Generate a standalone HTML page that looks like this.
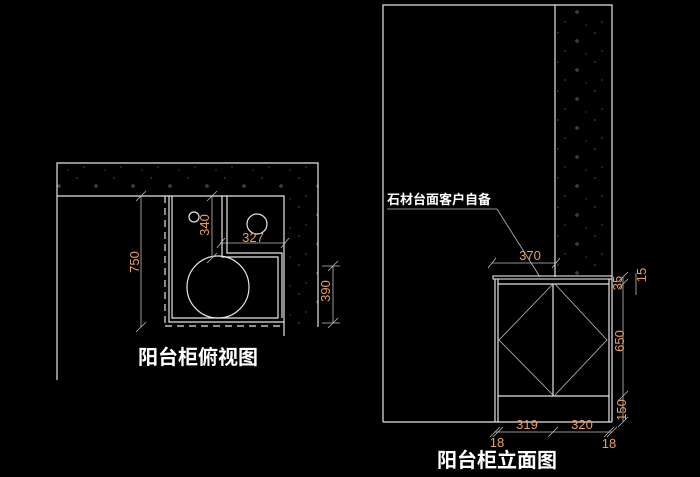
<!DOCTYPE html>
<html><head><meta charset="utf-8"><style>
html,body{margin:0;padding:0;background:#000;}
svg{display:block}
.w{stroke:#e6e6e6;stroke-width:1.2;fill:none}
.d{stroke:#bdbdbd;stroke-width:0.8;fill:none}
.o{fill:#e9a05c;font-family:"Liberation Sans","Noto Sans CJK SC",sans-serif;font-size:13px}
.t{fill:#fff;font-family:"Liberation Sans","Noto Sans CJK SC",sans-serif;font-weight:bold}
</style></head><body>
<svg width="700" height="477" viewBox="0 0 700 477" xmlns="http://www.w3.org/2000/svg">
<defs>
<pattern id="st" width="37" height="29" patternUnits="userSpaceOnUse">
<circle cx="3" cy="4" r="0.6" fill="#888"/><circle cx="22" cy="12" r="1.2" fill="none" stroke="#888" stroke-width="0.6"/>
<circle cx="10" cy="22" r="0.6" fill="#777"/><circle cx="31" cy="25" r="0.5" fill="#999"/>
</pattern>
</defs>
<!-- Top view -->
<path d="M285,197 H318 V327 H285 Z" fill="url(#st)"/>
<rect x="57" y="163" width="261" height="34" fill="url(#st)"/>
<path class="w" d="M57,380 V163 H318 V327"/>
<path class="w" d="M57,196 H284 V336"/>
<line x1="165" y1="196" x2="165" y2="326" stroke="#e6e6e6" stroke-width="1.2" stroke-dasharray="7,5"/>
<line x1="165" y1="326" x2="284" y2="326" stroke="#e6e6e6" stroke-width="1.2" stroke-dasharray="7,5"/>
<path class="w" d="M169,196 V322 H284"/>
<path class="w" d="M172,196 V318 H278 V257 H222 V196"/>
<path class="w" d="M227,196 V253 H282 V318"/>
<circle class="w" cx="194" cy="217" r="5"/>
<circle class="w" cx="257" cy="224" r="10"/>
<circle class="w" cx="218" cy="287" r="31"/>
<path class="d" d="M141,196 V327 M136,201 l10,-10 M136,332 l10,-10 M212,196 V258 M207,201 l10,-10 M207,263 l10,-10 M220,243 H284 M217,248 l8,-10 M281,248 l8,-10 M333,266 V323 M328,271 l10,-10 M328,328 l10,-10 M322,266 H340 M322,323 H340"/>
<text class="o" transform="translate(139,262) rotate(-90)" text-anchor="middle" font-size="15">750</text>
<text class="o" transform="translate(209,225) rotate(-90)" text-anchor="middle" font-size="15">340</text>
<text class="o" x="253" y="242" text-anchor="middle" font-size="15">327</text>
<text class="o" transform="translate(330,291) rotate(-90)" text-anchor="middle" font-size="15">390</text>
<text class="t" x="198" y="364" text-anchor="middle" font-size="20">阳台柜俯视图</text>
<!-- Elevation -->
<rect x="555" y="5" width="57" height="272" fill="url(#st)"/>
<path class="w" d="M383,422 V5 H612 V277 M555,5 V277"/>
<path class="w" d="M383,422 H612"/>
<rect x="493" y="276" width="119" height="3" fill="none" stroke="#e6e6e6" stroke-width="1.1"/>
<path class="w" d="M495,279 V422 M498,279 V422 M612,279 V422 M609,279 V422 M498,284 H609 M498,396 H609 M553,284 V396"/>
<path class="d" d="M553,284 L499,340 L553,395 M555,284 L607,340 L555,395"/>
<path class="d" d="M387,209 H497 L540,277"/>
<text class="t" x="387" y="204" font-size="13">石材台面客户自备</text>
<path class="d" d="M492,263 H556 M488,268 l8,-10 M552,268 l8,-10 M623,277 V422 M618,282 l10,-10 M618,289 l10,-10 M618,401 l10,-10 M618,427 l10,-10 M636,273 V295 M495,432 H612 M490,437 l10,-10 M493,437 l10,-10 M548,437 l10,-10 M604,437 l10,-10 M607,437 l10,-10"/>
<text class="o" x="530" y="260" text-anchor="middle" font-size="15">370</text>
<text class="o" transform="translate(622,283) rotate(-90)" text-anchor="middle" font-size="14">35</text>
<text class="o" transform="translate(646,275) rotate(-90)" text-anchor="middle" font-size="15">15</text>
<text class="o" transform="translate(624,341) rotate(-90)" text-anchor="middle" font-size="15">650</text>
<text class="o" transform="translate(626,410) rotate(-90)" text-anchor="middle" font-size="15">150</text>
<text class="o" x="527" y="429" text-anchor="middle" font-size="15">319</text>
<text class="o" x="582" y="429" text-anchor="middle" font-size="15">320</text>
<text class="o" x="497" y="447" text-anchor="middle" font-size="15">18</text>
<text class="o" x="609" y="448" text-anchor="middle" font-size="15">18</text>
<text class="t" x="497" y="467" text-anchor="middle" font-size="20">阳台柜立面图</text>
</svg>
</body></html>
